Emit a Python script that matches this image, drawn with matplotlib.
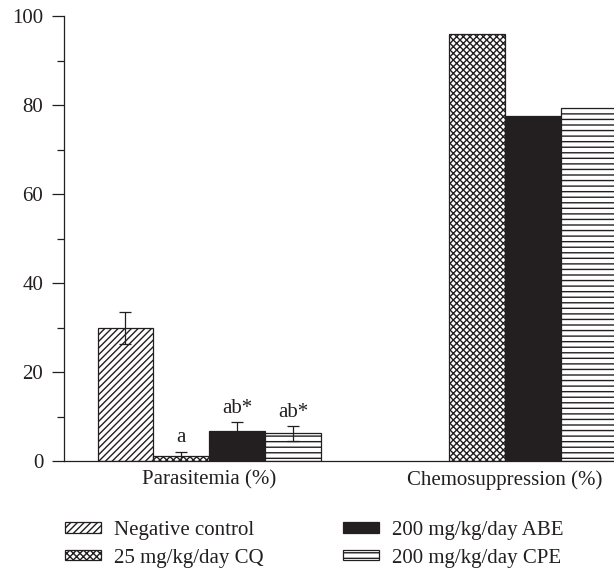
import numpy as np
import matplotlib
matplotlib.use("Agg")
from matplotlib import pyplot as plt

plt.rcParams["font.family"] = ["Liberation Serif", "DejaVu Serif"]
plt.rcParams["hatch.linewidth"] = 1.0

GROUPS = ["Parasitemia (%)", "Chemosuppression (%)"]
SERIES = ["Negative control", "25 mg/kg/day CQ", "200 mg/kg/day ABE", "200 mg/kg/day CPE"]
PARASITEMIA = [29.9, 1.1, 6.7, 6.2]
PARASITEMIA_ERR = [3.5, 1.0, 2.0, 1.6]
CHEMO = [0.0, 95.9, 77.6, 79.3]
LABELS = ["", "a", "ab*", "ab*"]

INK = "#231f20"
HATCHES = ["/////", "xxxxx", "", "---"]
FACES = ["white", "white", INK, "white"]

fig = plt.figure(figsize=(6.14, 5.71), dpi=100)
ax = fig.add_axes([64 / 614, 110 / 571, 1 - 64 / 614, 445 / 571])

offsets = [0.0, 5.3]
for i, name in enumerate(SERIES):
    # parasitemia group with error bars
    ax.bar(offsets[0] + i, PARASITEMIA[i], width=1.0, color=FACES[i],
           edgecolor=INK, hatch=HATCHES[i], linewidth=0.9, label=name)
    ax.errorbar(offsets[0] + i, PARASITEMIA[i], yerr=PARASITEMIA_ERR[i],
                fmt="none", ecolor=INK, elinewidth=0.9, capsize=4, capthick=0.9)
    if LABELS[i]:
        ax.text(offsets[0] + i, PARASITEMIA[i] + PARASITEMIA_ERR[i] + 1.0,
                LABELS[i], ha="center", va="bottom", fontsize=15, color=INK)
    if CHEMO[i] > 0:
        ax.bar(offsets[1] + i, CHEMO[i], width=1.0, color=FACES[i],
               edgecolor=INK, hatch=HATCHES[i], linewidth=0.9)

ax.set_xlim(-1.1, 8.75)
ax.set_ylim(0, 100)
ax.set_yticks(np.arange(0, 101, 20))
ax.set_yticks(np.arange(10, 100, 20), minor=True)
ax.set_xticks([offsets[0] + 1.5, offsets[1] + 1.5])
ax.set_xticklabels(GROUPS)
ax.tick_params(axis="x", length=0, pad=7, labelsize=15, colors=INK)
ax.tick_params(axis="y", which="major", length=9, width=0.9, labelsize=15, colors=INK, pad=6)
ax.tick_params(axis="y", which="minor", length=5, width=0.9, colors=INK)
for s in ["top", "right"]:
    ax.spines[s].set_visible(False)
for s in ["left", "bottom"]:
    ax.spines[s].set_color(INK)
    ax.spines[s].set_linewidth(0.9)

handles, labels = ax.get_legend_handles_labels()
fig.legend(handles, labels, loc="upper left", bbox_to_anchor=(46 / 614, 1 - 502 / 571),
           ncol=2, frameon=False, fontsize=15, handlelength=1.73, handleheight=0.42,
           columnspacing=3.8, handletextpad=0.63, labelspacing=0.42,
           labelcolor=INK)

fig.savefig("out.png", dpi=100)
